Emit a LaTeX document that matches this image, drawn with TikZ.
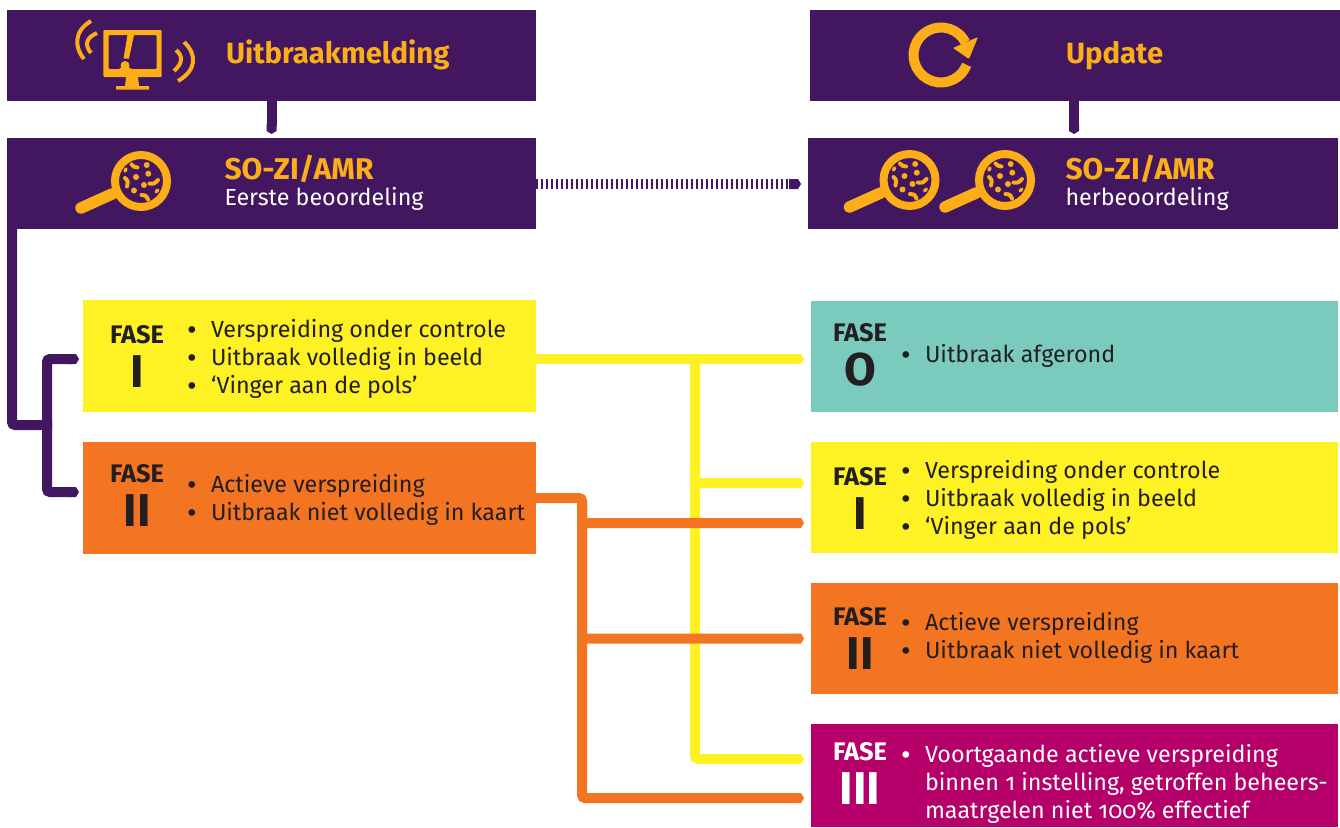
\documentclass[tikz,border=0pt]{standalone}
\usepackage{fontspec}
\setmainfont[Numbers=OldStyle]{Fira Sans}
\newfontfamily\stipfont{DejaVu Sans}
\usetikzlibrary{arrows.meta}
\definecolor{paars}{HTML}{42175F}
\definecolor{amber}{HTML}{FBAE17}
\definecolor{geel}{HTML}{FFF224}
\definecolor{oranje}{HTML}{F47521}
\definecolor{teal}{HTML}{7ACBBE}
\definecolor{magenta}{HTML}{B5006A}
\definecolor{inkt}{HTML}{231F20}
\newcommand\fs[1]{\fontsize{#1}{#1}\selectfont}
\newcommand\stip{\makebox[10pt][c]{\stipfont\fs{23}\raisebox{-1.5pt}{•}}\hspace{14pt}}
\tikzset{
  x=1pt,y=-1pt,
  vlak/.style={anchor=north west,inner sep=0,outer sep=0},
  tekst/.style={anchor=base west,inner sep=0,outer sep=0,text=inkt,font=\fs{23.3}},
  wit/.style={tekst,text=white},
  kop/.style={anchor=base west,inner sep=0,outer sep=0,text=amber,font=\fs{29.3}\bfseries},
  kopb/.style={kop,font=\fs{30}\bfseries},
  fase/.style={anchor=base,inner sep=0,outer sep=0,text=inkt,font=\fs{25.4}\bfseries},
  cijfer/.style={anchor=base,inner sep=0,outer sep=0,text=inkt,font=\fs{46}\bfseries},
  lijn/.style={line width=10pt,rounded corners=3pt,-{Triangle Cap[length=3pt]}},
  tak/.style={line width=10pt,rounded corners=3pt},
  rodje/.style={line width=4pt,line cap=round,amber},
  loep/.pic={
    \draw[amber,line width=8pt] (0,0) circle[radius=26pt];
    \draw[amber,line width=11.5pt,line cap=round] (-60,27) -- (-29,13);
    \fill[amber] (5.7,-16) circle[radius=3pt] (-5,-4) circle[radius=3pt] (7.3,-7.3) circle[radius=3pt]
      (3,4) circle[radius=3pt] (-7,9.5) circle[radius=3pt];
    \draw[rodje] (-9.5,-16.5) .. controls (-7,-14) .. (-3.5,-13.5);
    \draw[rodje] (-16,-3) .. controls (-13,0) .. (-14,5.5);
    \draw[rodje] (8.5,2.5) .. controls (13,3) .. (17,-1);
    \draw[rodje] (0.5,14) .. controls (5,14.5) .. (7,18.5);
    \draw[rodje,line width=3.4pt] (15,11) -- (17,9);
    \draw[rodje,line width=3.4pt] (-16,-10) -- (-15,-12);
  }
}
\newcommand\regel[5]{\node[#1] (#2) at (#3,#4) {#5};}
\begin{document}
\begin{tikzpicture}
\useasboundingbox (0,0) rectangle (1340,827);
% vlakken
\node[vlak,fill=paars,minimum width=529pt,minimum height=91pt] (melding) at (7,10) {};
\node[vlak,fill=paars,minimum width=529pt,minimum height=91pt] (beoord) at (7,138) {};
\node[vlak,fill=paars,minimum width=530pt,minimum height=91pt] (update) at (810,10) {};
\node[vlak,fill=paars,minimum width=530pt,minimum height=91pt] (herbeoord) at (808,138) {};
\node[vlak,fill=geel,minimum width=453pt,minimum height=112pt] (lI) at (83,300) {};
\node[vlak,fill=oranje,minimum width=453pt,minimum height=112pt] (lII) at (83,442) {};
\node[vlak,fill=teal,minimum width=527pt,minimum height=111pt] (rO) at (811,301) {};
\node[vlak,fill=geel,minimum width=527pt,minimum height=111pt] (rI) at (811,442) {};
\node[vlak,fill=oranje,minimum width=527pt,minimum height=111pt] (rII) at (811,583) {};
\node[vlak,fill=magenta,minimum width=527pt,minimum height=103pt] (rIII) at (811,724) {};
% verbindingen paars
\draw[paars,lijn] (melding.south) -- ([yshift=4pt]beoord.north);
\draw[paars,lijn] (update.south -| 1074,0) -- ([yshift=4pt]herbeoord.north -| 1074,0);
\coordinate (stipeind) at (789,184);
\draw[paars,line width=10pt,dash pattern=on 2pt off 3pt] (beoord.east |- stipeind) -- (stipeind);
\draw[paars,lijn] (stipeind) -- ([xshift=-7pt]herbeoord.west |- stipeind);
\coordinate (ltak) at (47,425);
\draw[paars,tak] ([xshift=5pt]beoord.south west) |- ([xshift=5pt]ltak);
\draw[paars,lijn] (ltak) |- ([xshift=-4pt,yshift=-3pt]lI.west);
\draw[paars,lijn] (ltak) |- ([xshift=-4pt,yshift=6pt]lII.west);
% geel
\coordinate (gtak) at (695,359);
\draw[geel,lijn] ([yshift=-3pt]lI.east) -- ([xshift=-7pt,yshift=-2.5pt]rO.west);
\draw[geel,lijn] (gtak) |- ([xshift=-7pt,yshift=16.5pt]rIII.west);
\draw[geel,lijn] (gtak) |- ([xshift=-7pt,yshift=14.5pt]rI.west);
% oranje
\coordinate (otak) at (582,498);
\draw[oranje,lijn] (lII.east) -- (otak) |- ([xshift=-7pt,yshift=-22.5pt]rIII.west);
\draw[oranje,lijn] ([yshift=-5pt]otak) |- ([xshift=-7pt,yshift=-25.5pt]rI.west);
\draw[oranje,lijn] ([yshift=-5pt]otak) |- ([xshift=-7pt]rII.west);
% koppen
\regel{kop}{t1}{226}{63}{Uitbraakmelding}
\regel{kopb}{t2}{224.5}{179}{SO-ZI/AMR}
\regel{wit}{t3}{224.5}{205}{Eerste beoordeling}
\regel{kop}{t4}{1066}{63}{Update}
\regel{kopb}{t5}{1065.5}{179}{SO-ZI/AMR}
\regel{wit}{t6}{1065.5}{205}{herbeoordeling}
% fases links
\regel{fase}{f1}{137}{343}{FASE}
\regel{cijfer}{c1}{137}{387}{I}
\regel{fase}{f2}{137}{482}{FASE}
\regel{cijfer}{c2}{137}{526}{II}
\regel{tekst}{a1}{187}{337}{\stip Verspreiding onder controle}
\regel{tekst}{a2}{187}{365}{\stip Uitbraak volledig in beeld}
\regel{tekst}{a3}{187}{393}{\stip ‘Vinger aan de pols’}
\regel{tekst}{a4}{187}{492}{\stip Actieve verspreiding}
\regel{tekst}{a5}{187}{520}{\stip Uitbraak niet volledig in kaart}
% fases rechts
\regel{fase}{f3}{860}{341}{FASE}
\regel{cijfer}{c3}{860}{385}{O}
\regel{tekst}{a6}{901}{362}{\stip Uitbraak afgerond}
\regel{fase}{f4}{860}{485}{FASE}
\regel{cijfer}{c4}{860}{529}{I}
\regel{tekst}{a7}{901}{478}{\stip Verspreiding onder controle}
\regel{tekst}{a8}{901}{506}{\stip Uitbraak volledig in beeld}
\regel{tekst}{a9}{901}{534}{\stip ‘Vinger aan de pols’}
\regel{fase}{f5}{860}{625}{FASE}
\regel{cijfer}{c5}{860}{669}{II}
\regel{tekst}{a10}{901}{630}{\stip Actieve verspreiding}
\regel{tekst}{a11}{901}{658}{\stip Uitbraak niet volledig in kaart}
\regel{fase,text=white}{f6}{860}{760}{FASE}
\regel{cijfer,text=white}{c6}{860}{804}{III}
\regel{wit}{a12}{901}{762}{\stip Voortgaande actieve verspreiding}
\regel{wit}{a13}{925}{790}{binnen 1 instelling, getroffen beheers-}
\regel{wit}{a14}{925}{818}{maatrgelen niet 100\% effectief}
% pictogrammen
\pic at (141,181) {loep};
\pic at (909.5,180) {loep};
\pic at (1005,180) {loep};
% monitor
\fill[amber,even odd rule,rounded corners=1pt] (103.3,30) rectangle (161.5,77) (108.5,35) rectangle (156.5,69);
\fill[amber] (126,77) -- (138,77) -- (139,86) -- (149,86) -- (149,89.5) -- (116,89.5) -- (116,86) -- (125,86) -- cycle;
\fill[amber] (127.5,35) -- (134,35) -- (129,58.5) -- (123.5,58.5) -- cycle;
\fill[amber] (125,65.5) circle[radius=4.5pt];
\fill[amber] (118,69.5) .. controls (121,68) .. (125,65.5) .. controls (129,68) .. (133,69.5) -- cycle;
\draw[amber,line width=4pt] (91,21) .. controls (74,31) and (74,47) .. (84,59);
\draw[amber,line width=4pt] (97,33) .. controls (85,38) and (85,46) .. (91,53);
\draw[amber,line width=4pt] (176,50) .. controls (183,56) and (183,63) .. (174,71);
\draw[amber,line width=4pt] (184,42) .. controls (197,54) and (197,70) .. (178,81);
% vernieuwen
\begin{scope}[shift={(941,55)},x=1pt,y=1pt]
\draw[amber,line width=10pt] (27:27.5pt) arc[start angle=27,end angle=339,radius=27.5pt];
\fill[amber,rounded corners=1pt] (37,18) -- (28,-4) -- (12,7) -- cycle;
\end{scope}
\end{tikzpicture}
\end{document}
